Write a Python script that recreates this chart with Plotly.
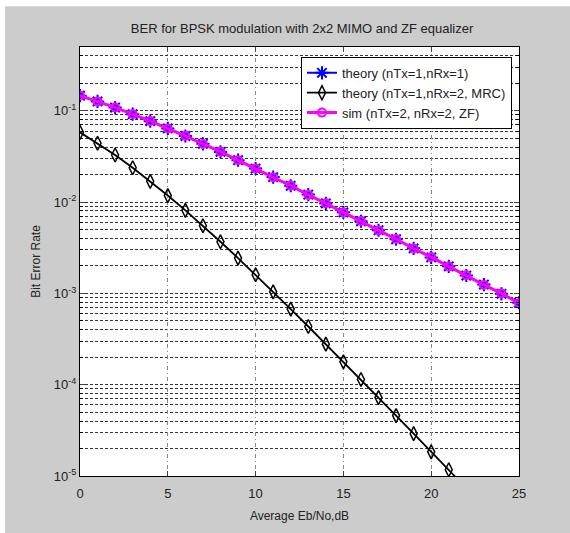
import plotly.graph_objects as go

ebno_db = list(range(0, 26))

theory_1rx = [0.1464, 0.1267, 0.1085, 0.0919, 0.0771, 0.0642, 0.0530, 0.0435,
              0.0355, 0.0288, 0.0233, 0.0188, 0.0151, 0.0121, 0.00967, 0.00772,
              0.00617, 0.00492, 0.00392, 0.00312, 0.00248, 0.00198, 0.00157,
              0.00125, 0.00099, 0.00079]

theory_mrc = [0.0581, 0.0441, 0.0328, 0.0238, 0.0169, 0.0118, 0.00813, 0.00551,
              0.00368, 0.00244, 0.00160, 0.00104, 0.000674, 0.000434, 0.000278,
              0.000178, 0.000114, 7.23e-5, 4.59e-5, 2.91e-5, 1.84e-5, 1.17e-5,
              7.40e-6, 4.67e-6, 2.95e-6, 1.86e-6]

sim_zf = [0.1468, 0.1263, 0.1089, 0.0916, 0.0774, 0.0640, 0.0532, 0.0433,
          0.0357, 0.0287, 0.0234, 0.0187, 0.0152, 0.0120, 0.00970, 0.00768,
          0.00620, 0.00490, 0.00394, 0.00310, 0.00250, 0.00197, 0.00158,
          0.00124, 0.00100, 0.00078]

series_names = ["theory (nTx=1,nRx=1)", "theory (nTx=1,nRx=2, MRC)", "sim (nTx=2, nRx=2, ZF)"]

x_ticks = [0, 5, 10, 15, 20, 25]
y_major = [1e-5, 1e-4, 1e-3, 1e-2, 1e-1]
y_major_text = ["10<sup>-5</sup>", "10<sup>-4</sup>", "10<sup>-3</sup>", "10<sup>-2</sup>", "10<sup>-1</sup>"]
y_minor = [m * 10.0 ** e for e in range(-5, 0) for m in range(2, 10)]

fig = go.Figure()
fig.add_trace(go.Scatter(
    x=ebno_db, y=theory_1rx, mode="lines+markers", name=series_names[0],
    line=dict(color="#0000ff", width=2),
    marker=dict(symbol="asterisk-open", size=11, color="#0000ff", line=dict(width=2, color="#0000ff")),
))
fig.add_trace(go.Scatter(
    x=ebno_db, y=theory_mrc, mode="lines+markers", name=series_names[1],
    line=dict(color="#000000", width=1.8),
    marker=dict(symbol="diamond-tall-open", size=10, color="#000000", line=dict(width=1.5, color="#000000")),
))
fig.add_trace(go.Scatter(
    x=ebno_db, y=sim_zf, mode="lines+markers", name=series_names[2],
    line=dict(color="#ff00ff", width=3),
    marker=dict(symbol="circle-open", size=8, color="#ff00ff", line=dict(width=2, color="#ff00ff")),
))

font_family = "Liberation Sans, Arial, sans-serif"

fig.update_layout(
    width=570, height=533,
    margin=dict(l=80, r=51, t=47, b=54),
    paper_bgcolor="#cccccc",
    plot_bgcolor="#ffffff",
    font=dict(family=font_family, size=12, color="#222222"),
    title=dict(text="BER for BPSK modulation with 2x2 MIMO and ZF equalizer",
               x=0.53, xanchor="center", y=0.947, yanchor="middle",
               font=dict(size=13, color="#222222")),
    showlegend=True,
    legend=dict(x=0.984, y=0.977, xanchor="right", yanchor="top",
                bgcolor="#ffffff", bordercolor="#000000", borderwidth=1,
                font=dict(size=13, color="#222222"), tracegroupgap=0,
                itemwidth=30),
    xaxis=dict(range=[0, 25], tickvals=x_ticks, ticks="inside", ticklen=5,
               showline=True, linecolor="#000000", linewidth=1, mirror="allticks",
               showgrid=True, gridcolor="#888888", griddash="4px,3px,1px,3px", gridwidth=1,
               zeroline=False, ticklabelstandoff=5,
               title=dict(text="Average Eb/No,dB", standoff=12, font=dict(size=12)),
               tickfont=dict(size=13)),
    yaxis=dict(type="log", range=[-5, -0.30103], tickvals=y_major, ticktext=y_major_text,
               ticks="inside", ticklen=5,
               showline=True, linecolor="#000000", linewidth=1, mirror="allticks",
               showgrid=True, gridcolor="#333333", griddash="3px,2px", gridwidth=1,
               zeroline=False,
               minor=dict(tickvals=y_minor, ticks="inside", ticklen=3, tickcolor="#000000",
                          showgrid=True, gridcolor="#333333", griddash="3px,2px", gridwidth=1),
               title=dict(text="Bit Error Rate", standoff=10, font=dict(size=12)),
               tickfont=dict(size=13)),
)

# white strips at top and left of the image (outside the gray figure area)
fig.add_shape(type="rect", xref="paper", yref="paper", layer="above",
              x0=-80 / 439, x1=490 / 439, y0=1 + 41 / 432, y1=1 + 60 / 432,
              fillcolor="#ffffff", line=dict(width=0))
fig.add_shape(type="rect", xref="paper", yref="paper", layer="above",
              x0=-90 / 439, x1=-75 / 439, y0=-60 / 432, y1=1 + 60 / 432,
              fillcolor="#ffffff", line=dict(width=0))

fig.write_html("out.html")
